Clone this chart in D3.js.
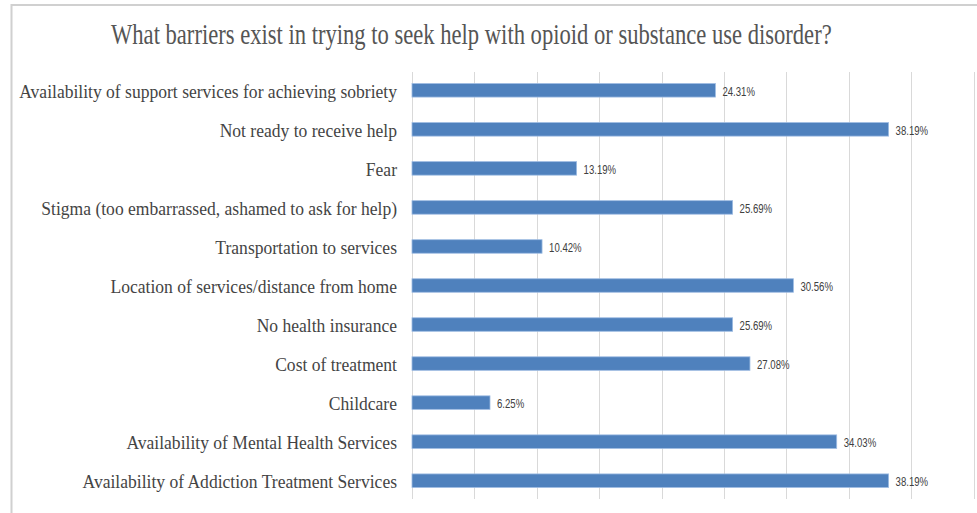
<!DOCTYPE html>
<html>
<head>
<meta charset="utf-8">
<script src="https://cdn.jsdelivr.net/npm/d3@7/dist/d3.min.js"></script>
<style>
  html, body { margin: 0; padding: 0; background: #fff; }
  svg { display: block; }
</style>
</head>
<body>
<svg id="chart" width="977" height="513"></svg>
<script>
// Survey responses: barriers to seeking help (percent of respondents)
const title = "What barriers exist in trying to seek help with opioid or substance use disorder?";
const categories = [
  "Availability of support services for achieving sobriety",
  "Not ready to receive help",
  "Fear",
  "Stigma (too embarrassed, ashamed to ask for help)",
  "Transportation to services",
  "Location of services/distance from home",
  "No health insurance",
  "Cost of treatment",
  "Childcare",
  "Availability of Mental Health Services",
  "Availability of Addiction Treatment Services"
];
const values = [24.31, 38.19, 13.19, 25.69, 10.42, 30.56, 25.69, 27.08, 6.25, 34.03, 38.19];
const gridTicks = [0, 5, 10, 15, 20, 25, 30, 35, 40, 45];

const svg = d3.select("#chart");
const W = 977, H = 513;
const plot = { left: 412, right: 973.6, top: 70.8, bottom: 500.2 };

// Frame lines along the top and left edges
svg.append("line").attr("x1", 11.5).attr("x2", W).attr("y1", 5).attr("y2", 5)
  .attr("stroke", "#d0d0d0").attr("stroke-width", 2);
svg.append("line").attr("x1", 11.5).attr("x2", 11.5).attr("y1", 4).attr("y2", H)
  .attr("stroke", "#d0d0d0").attr("stroke-width", 2);

const x = d3.scaleLinear().domain([0, 45]).range([plot.left, plot.right]);
const y = d3.scaleBand().domain(categories).range([plot.top, plot.bottom])
  .paddingInner(0.654).paddingOuter(0.327);

// Vertical gridlines (no tick labels)
const xAxis = d3.axisBottom(x).tickValues(gridTicks).tickSize(-(498.5 - 71.5)).tickFormat("");
const gx = svg.append("g").attr("transform", `translate(0,498.5)`).call(xAxis);
gx.select(".domain").remove();
gx.selectAll(".tick line").attr("stroke", "#d9d9d9").attr("stroke-width", 1)
  .attr("shape-rendering", "crispEdges");

// Bars
svg.append("g").selectAll("rect").data(values).join("rect")
  .attr("x", x(0))
  .attr("y", (d, i) => y(categories[i]))
  .attr("width", d => x(d) - x(0))
  .attr("height", y.bandwidth())
  .attr("fill", "#4F81BD")
  .attr("stroke", "#9dbbe2")
  .attr("stroke-width", 0.8);

// Category labels (condensed serif, right-aligned)
const catScale = 0.9;
svg.append("g").selectAll("text").data(categories).join("text")
  .attr("transform", d => `translate(397,${y(d) + y.bandwidth() / 2 + 0.5}) scale(${catScale},1)`)
  .attr("text-anchor", "end")
  .attr("dy", "0.35em")
  .attr("font-family", "'Liberation Serif', 'Times New Roman', serif")
  .attr("font-size", 19.5)
  .attr("fill", "#444")
  .text(d => d);

// Value labels
const valScale = 0.8;
svg.append("g").selectAll("text").data(values).join("text")
  .attr("transform", (d, i) => `translate(${x(d) + 7},${y(categories[i]) + y.bandwidth() / 2 + 1}) scale(${valScale},1)`)
  .attr("dy", "0.35em")
  .attr("font-family", "'Liberation Sans', Arial, sans-serif")
  .attr("font-size", 12)
  .attr("fill", "#404040")
  .text(d => d.toFixed(2) + "%");

// Title, narrowed horizontally to its set width
const titleWidth = 721;
const titleText = svg.append("text")
  .attr("font-family", "'Liberation Serif', 'Times New Roman', serif")
  .attr("font-size", 29)
  .attr("fill", "#555")
  .text(title);
const natural = titleText.node().getComputedTextLength();
titleText.attr("transform", `translate(111,44) scale(${titleWidth / natural},1)`);
</script>
</body>
</html>
